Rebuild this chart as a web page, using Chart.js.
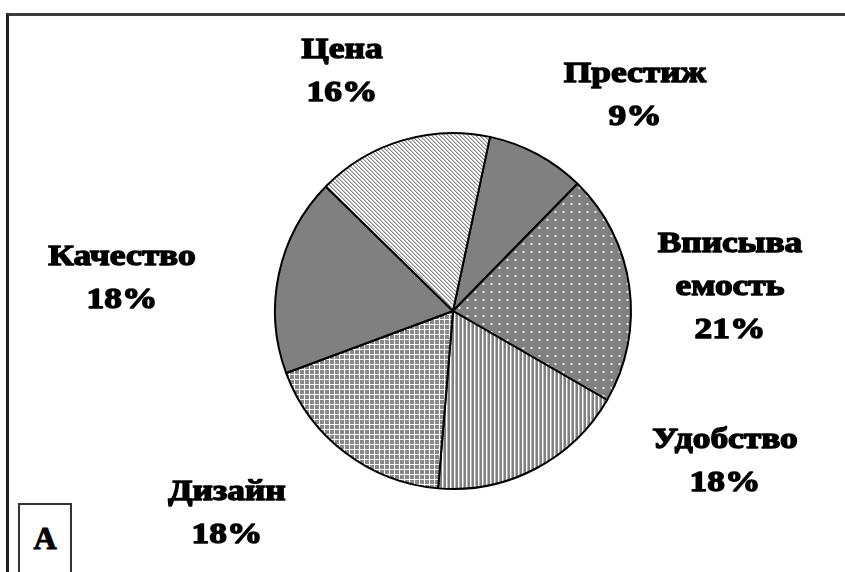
<!DOCTYPE html>
<html>
<head>
<meta charset="utf-8">
<script src="https://cdn.jsdelivr.net/npm/chart.js@4/dist/chart.umd.min.js"></script>
<style>
    body { margin: 0; background: #fff; }
    #wrap { position: relative; width: 845px; height: 572px; overflow: hidden; }
    #pie { position: absolute; left: 0; top: 0; }
    #frame {
        position: absolute; left: 6px; top: 13px; right: -10px; bottom: -10px;
        border-top: 3px solid #3c3c3c; border-left: 3px solid #1e1e1e;
    }
    #tag {
        position: absolute; left: 18px; top: 503px; width: 50px; height: 80px;
        border: 2px solid #333; background: #fff;
        font: bold 32px "Liberation Serif", serif; color: #000;
        text-align: center; line-height: 66px;
        -webkit-text-stroke: 1px #000;
    }
</style>
</head>
<body>
<div id="wrap">
    <canvas id="pie" width="845" height="572"></canvas>
    <div id="frame"></div>
    <div id="tag">A</div>
</div>
<script>
// slices, clockwise from the top
var categories = ['Престиж', 'Вписываемость', 'Удобство', 'Дизайн', 'Качество', 'Цена'];
var shares = [9, 21, 18, 18, 18, 16];
var labelLines = [['Престиж'], ['Вписыва', 'емость'], ['Удобство'], ['Дизайн'], ['Качество'], ['Цена']];

// where each caption block sits, relative to the pie centre
var labelOffsets = [[182, -215], [277, -24], [272, 151], [-226, 203], [-331, -32], [-111, -239]];

function makePattern(w, h, paint)
{
    var c = document.createElement('canvas');
    c.width = w;
    c.height = h;
    var g = c.getContext('2d');
    paint(g);
    return document.getElementById('pie').getContext('2d').createPattern(c, 'repeat');
}

function solidGrey()
{
    return '#808080';
}

function diagonalHatch()
{
    return makePattern(4, 4, function (g) {
        g.fillStyle = '#ffffff';
        g.fillRect(0, 0, 4, 4);
        for (let y = 0; y < 4; y++) {
            g.fillStyle = '#8a8a8a';
            g.fillRect(y % 4, y, 1, 1);
            g.fillStyle = '#c4c4c4';
            g.fillRect((y + 1) % 4, y, 1, 1);
        }
    });
}

function dottedGrey()
{
    return makePattern(8, 8, function (g) {
        g.fillStyle = '#808080';
        g.fillRect(0, 0, 8, 8);
        g.fillStyle = '#b4b4b4';
        g.fillRect(2, 3, 3, 2);
        g.fillStyle = '#e8e8e8';
        g.fillRect(3, 3, 1, 2);
    });
}

function verticalStripes()
{
    return makePattern(4, 1, function (g) {
        g.fillStyle = '#808080';
        g.fillRect(0, 0, 2, 1);
        g.fillStyle = '#ffffff';
        g.fillRect(2, 0, 1, 1);
        g.fillStyle = '#b8b8b8';
        g.fillRect(3, 0, 1, 1);
    });
}

function gridCheck()
{
    return makePattern(5, 5, function (g) {
        g.fillStyle = '#888888';
        g.fillRect(0, 0, 5, 5);
        g.fillStyle = '#ffffff';
        g.fillRect(4, 0, 1, 5);
        g.fillRect(0, 4, 5, 1);
    });
}

var fills = [solidGrey(), dottedGrey(), verticalStripes(), gridCheck(), solidGrey(), diagonalHatch()];

var captionPlugin = {
    id: 'captions',
    afterDatasetsDraw(chart) {
        const ctx = chart.ctx;
        const arcs = chart.getDatasetMeta(0).data;
        const stretch = 1.18;
        const lineH = 43;
        ctx.save();
        ctx.font = 'bold 30px "Liberation Serif", serif';
        ctx.fillStyle = '#000';
        ctx.strokeStyle = '#000';
        ctx.lineWidth = 1.4;
        ctx.lineJoin = 'round';
        ctx.textAlign = 'center';
        ctx.textBaseline = 'middle';
        for (let i = 0; i < arcs.length; i++) {
            const p = arcs[i].getProps(['x', 'y'], true);
            const lines = labelLines[i].concat([shares[i] + '%']);
            const cx = p.x + labelOffsets[i][0];
            const top = p.y + labelOffsets[i][1] - (lines.length - 1) * lineH / 2;
            for (let k = 0; k < lines.length; k++) {
                ctx.save();
                ctx.translate(cx, top + k * lineH);
                ctx.scale(stretch, 1);
                ctx.strokeText(lines[k], 0, 0);
                ctx.fillText(lines[k], 0, 0);
                ctx.restore();
            }
        }
        ctx.restore();
    }
};

const ctx = document.getElementById('pie').getContext('2d');
var pieChart = new Chart(ctx, {
    type: 'pie',
    data: {
        labels: categories,
        datasets: [{
            data: shares,
            backgroundColor: fills,
            borderColor: '#000',
            borderWidth: 2
        }]
    },
    options: {
        responsive: false,
        animation: false,
        rotation: 12,
        layout: {
            padding: { top: 132, bottom: 82, left: 274, right: 213 }
        },
        plugins: {
            legend: { display: false },
            tooltip: { enabled: false }
        }
    },
    plugins: [captionPlugin]
});
</script>
</body>
</html>
